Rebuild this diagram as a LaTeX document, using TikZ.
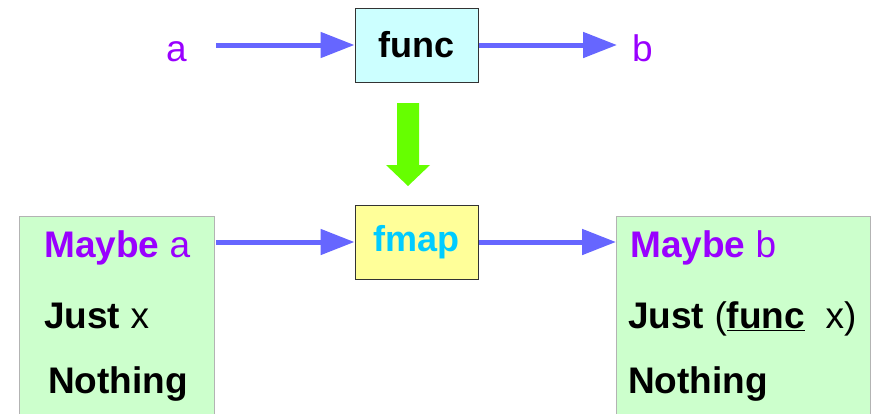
\documentclass[tikz,border=0pt]{standalone}
\usepackage{fontspec}
\setmainfont{Liberation Sans}
\usetikzlibrary{arrows.meta}
\definecolor{purp}{HTML}{9900FF}
\definecolor{arrblue}{HTML}{6666FF}
\definecolor{arrgreen}{HTML}{66FF00}
\definecolor{cyanfill}{HTML}{CCFFFF}
\definecolor{yellowfill}{HTML}{FFFF99}
\definecolor{greenfill}{HTML}{CCFFCC}
\definecolor{fmapblue}{HTML}{00CCFF}
\definecolor{boxgray}{HTML}{B3B3B3}
\begin{document}
\begin{tikzpicture}[x=1pt,y=-1pt,
  txt/.style={inner sep=0pt,font=\fontsize{37}{40}\selectfont},
  funcbox/.style={draw=black!80,line width=1pt,minimum width=123pt,minimum height=74pt,inner sep=0pt,font=\fontsize{36}{40}\selectfont\bfseries},
  typebox/.style={draw=boxgray,line width=1pt,fill=greenfill},
  conn/.style={arrblue,line width=5pt,-{Triangle[length=34pt,width=25pt]}}]
\useasboundingbox (0,0) rectangle (874,413);
% boxes
\node[funcbox,fill=cyanfill] (func) at (416.5,45) {func};
\node[funcbox,fill=yellowfill,text=fmapblue] (fmap) at (416.5,242) {fmap};
\draw[typebox] (19,216) rectangle (214,420);
\coordinate (lbox) at (214,242);
\draw[typebox] (616,216) rectangle (870,420);
\coordinate (rbox) at (616,242);
% texts
\node[txt,text=purp,anchor=base east] (a) at (187,61) {a};
\node[txt,text=purp,anchor=base west] (b) at (632,61) {b};
\node[txt,anchor=base west,text=purp] (ma) at (44,257) {\textbf{Maybe} a};
\node[txt,anchor=base west] (jx) at (44,328) {\textbf{Just} x};
\node[txt,anchor=base west] (n1) at (48,393) {\textbf{Nothing}};
\node[txt,anchor=base west,text=purp] (mb) at (630,257) {\textbf{Maybe} b};
\node[txt,anchor=base west] (jfx) at (628,328) {\textbf{Just} (\underline{\textbf{func}}\ \ x)};
\node[txt,anchor=base west] (n2) at (628,393) {\textbf{Nothing}};
% connectors
\draw[conn,shorten <=29pt] (a.east |- func) -- (func.west);
\draw[conn,shorten >=15pt] (func.east) -- (b.west |- func);
\draw[conn,shorten <=2pt] (lbox) -- (fmap.west);
\draw[conn] (fmap.east) -- (rbox);
% green block arrow
\fill[arrgreen] (397,103) -- (419,103) -- (419,165) -- (430,165) -- (408,186) -- (386,165) -- (397,165) -- cycle;
\end{tikzpicture}
\end{document}
